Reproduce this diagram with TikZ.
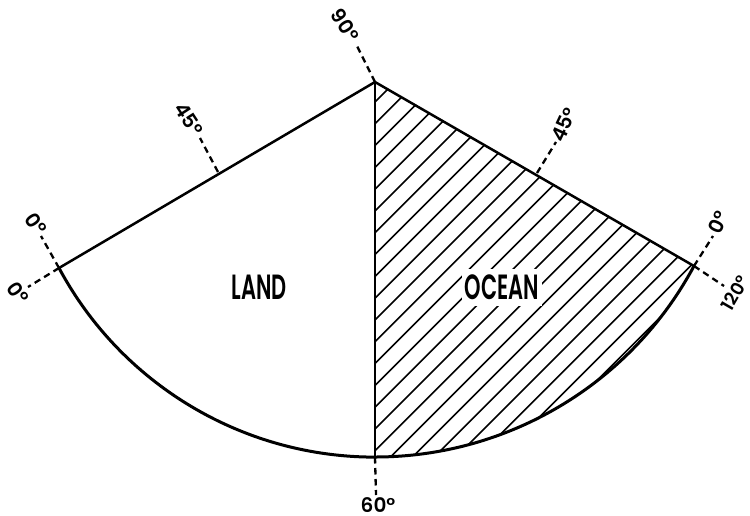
\documentclass[tikz,border=0pt]{standalone}
\usepackage{fontspec}
\setmainfont{Poppins}[BoldFont={Poppins SemiBold}]
\tikzset{
  tick/.style={line width=2.3pt,dash pattern=on 6.5pt off 4.5pt},
  deg/.style={font=\bfseries\fontsize{20}{20}\selectfont,inner sep=0pt},
  area/.style={font=\bfseries\fontsize{35}{35}\selectfont,inner sep=0pt,xscale=0.6},
  rim/.style={line width=3pt},
  edge/.style={line width=2.5pt},
  hatchline/.style={line width=1.6pt}
}
\begin{document}
\begin{tikzpicture}[x=1pt,y=1pt,yscale=-1]
\useasboundingbox (0,0) rectangle (750,515);
\fill[white] (0,0) rectangle (750,515);
\coordinate (A) at (375,82);
\coordinate (L) at (59,268);
\coordinate (R) at (694,266);
\coordinate (B) at (375,457);
\coordinate (ML) at (218,172);
\coordinate (MR) at (537,173);
% hatching
\begin{scope}
  \clip (A) -- (R) arc[start angle=28.2,end angle=90,radius=361.9] -- cycle;
  \foreach \k in {0,...,22}{
    \pgfmathsetmacro{\s}{477+21.8*\k}
    \draw[hatchline] (375,\s-375) -- ++(400,-400);
  }
  \draw[hatchline] (375,977.5-375) -- ++(400,-400);
\end{scope}
% outline
\draw[edge] (L) -- (A);
\draw[edge] (A) -- (R);
\draw[edge] (A) -- (B);
\draw[rim,line cap=round] (L) arc[start angle=151.8,end angle=90,radius=358.5];
\draw[rim,line cap=round] (B) arc[start angle=90,end angle=28.2,radius=361.9];
% labels
\node[area] (land) at (259,287.5) {LAND};
\node[area,fill=white,inner xsep=5pt,inner ysep=6pt] (ocean) at (502,287.5) {OCEAN};
\node[deg,rotate=-57] (n90) at (345,25) {90°};
\node[deg,rotate=-57] (n45l) at (189,119) {45°};
\node[deg,rotate=-55] (n0a) at (36,224) {0°};
\node[deg,rotate=-55] (n0b) at (18,293) {0°};
\node[deg,rotate=65] (n45r) at (564,125) {45°};
\node[deg,rotate=65] (n0c) at (718,222) {0°};
\node[deg,rotate=60,font=\bfseries\fontsize{18}{18}\selectfont] (n120) at (735,293) {120°};
\node[deg] (n60) at (378,505.5) {60°};
% ticks
\coordinate (t90) at (356,44);
\coordinate (t45l) at (200,138);
\coordinate (t0a) at (41,236);
\coordinate (t0b) at (28,287);
\coordinate (t45r) at (556,142);
\coordinate (t0c) at (713,236);
\coordinate (t120) at (724,286);
\coordinate (t60) at (376,495);
\draw[tick] (A) -- (t90);
\draw[tick] (ML) -- (t45l);
\draw[tick] (L) -- (t0a);
\draw[tick] (L) -- (t0b);
\draw[tick] (MR) -- (t45r);
\draw[tick] (R) -- (t0c);
\draw[tick] (R) -- (t120);
\draw[tick] (B) -- (t60);
\end{tikzpicture}
\end{document}
